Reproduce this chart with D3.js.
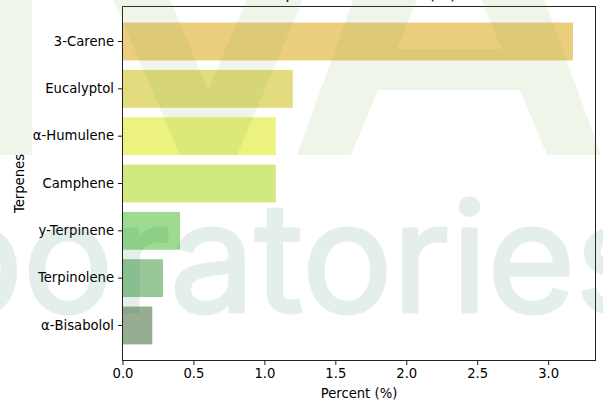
<!DOCTYPE html>
<html>
<head>
<meta charset="utf-8">
<script src="https://cdn.jsdelivr.net/npm/d3@7"></script>
<style>
  body { margin: 0; background: #fff; }
  svg { display: block; font-family: "DejaVu Sans", sans-serif; }
</style>
</head>
<body>
<script>
// data, top to bottom
var terpenes = ["3-Carene", "Eucalyptol", "α-Humulene", "Camphene", "y-Terpinene", "Terpinolene", "α-Bisabolol"];
var percents = [3.175, 1.20, 1.08, 1.08, 0.405, 0.285, 0.21];
var barColors = ["#ebcd7e", "#e3dc7e", "#ebf27d", "#d0ea80", "#9eda8f", "#98c898", "#97ad92"];
var xTicks = [0, 0.5, 1.0, 1.5, 2.0, 2.5, 3.0];

var W = 603, H = 403;
var margin = {top: 6.5, right: 7.5, bottom: 42.5, left: 122.5};

var svg = d3.select('body').append('svg')
  .attr('width', W)
  .attr('height', H);

var x = d3.scaleLinear()
  .domain([0, d3.max(percents) * 1.05])
  .range([margin.left, W - margin.right]);

var y = d3.scaleBand()
  .domain(terpenes)
  .range([margin.top, H - margin.bottom])
  .paddingInner(0.2)
  .paddingOuter(0.34);

// bars
svg.append('g')
  .selectAll('rect')
  .data(terpenes)
  .join('rect')
  .attr('x', x(0))
  .attr('y', function(d){ return y(d); })
  .attr('width', function(d, i){ return x(percents[i]) - x(0); })
  .attr('height', y.bandwidth())
  .attr('fill', function(d, i){ return barColors[i]; });

// axes
svg.append('g')
  .attr('transform', 'translate(0,' + (H - margin.bottom) + ')')
  .call(d3.axisBottom(x).tickValues(xTicks).tickFormat(d3.format('.1f')).tickSizeOuter(0).tickSize(4.5).tickPadding(4));

svg.append('g')
  .attr('transform', 'translate(' + margin.left + ',0)')
  .call(d3.axisLeft(y).tickSizeOuter(0).tickSize(4.5).tickPadding(4));

svg.selectAll('.tick text')
  .attr('font-family', '"DejaVu Sans", sans-serif')
  .attr('font-size', 13.2)
  .attr('fill', '#000');
svg.selectAll('.tick line').attr('stroke', '#000').attr('stroke-width', 0.9);
svg.selectAll('.domain').remove();

// frame
svg.append('rect')
  .attr('x', margin.left)
  .attr('y', margin.top)
  .attr('width', W - margin.left - margin.right)
  .attr('height', H - margin.top - margin.bottom)
  .attr('fill', 'none')
  .attr('stroke', '#222')
  .attr('stroke-width', 1);

// labels
svg.append('text')
  .attr('x', (margin.left + W - margin.right) / 2)
  .attr('y', 398)
  .attr('text-anchor', 'middle')
  .attr('font-size', 13.2)
  .text('Percent (%)');

svg.append('text')
  .attr('transform', 'translate(24,' + ((margin.top + H - margin.bottom) / 2) + ') rotate(-90)')
  .attr('text-anchor', 'middle')
  .attr('font-size', 13.2)
  .text('Terpenes');

svg.append('text')
  .attr('x', (margin.left + W - margin.right) / 2)
  .attr('y', -1.5)
  .attr('text-anchor', 'middle')
  .attr('font-size', 16)
  .text('Terpene Distribution (%)');

// watermark (logo), drawn over everything
var wm = svg.append('g').attr('pointer-events', 'none');
var green = '#7bb04a', op = 0.12;

wm.append('rect')
  .attr('x', 0).attr('y', 0).attr('width', 32).attr('height', 155)
  .attr('fill', green).attr('opacity', op);

// V
wm.append('path')
  .attr('d', 'M109,-10 L166,-10 L208,90 L251,-10 L307,-10 L237,155 L180,155 Z')
  .attr('fill', green).attr('opacity', op);

// A
wm.append('path')
  .attr('d', 'M357,-10 L541,-10 L601,155 L547,155 L520,90 L378,90 L351,155 L297,155 Z ' +
             'M421,-10 L477,-10 L502,49 L397,49 Z')
  .attr('fill-rule', 'evenodd')
  .attr('fill', green).attr('opacity', op);

var lab = wm.append('text')
  .attr('x', 0)
  .attr('y', 312)
  .attr('font-family', 'Inter, sans-serif')
  .attr('font-weight', 400)
  .attr('font-size', 152)
  .attr('fill', '#137a55')
  .attr('stroke', '#137a55')
  .attr('stroke-width', 3)
  .attr('stroke-linejoin', 'round')
  .attr('opacity', 0.11)
  .text('Laboratories');

// fit the spacing so the letters land where the logo puts them
var n = lab.node();
var d = n.getStartPositionOfChar(11).x - n.getStartPositionOfChar(4).x;
var ls = (462 - d) / 7;
lab.attr('letter-spacing', ls);
var p4 = n.getStartPositionOfChar(4).x;
lab.attr('x', 113 - p4);
</script>
</body>
</html>
